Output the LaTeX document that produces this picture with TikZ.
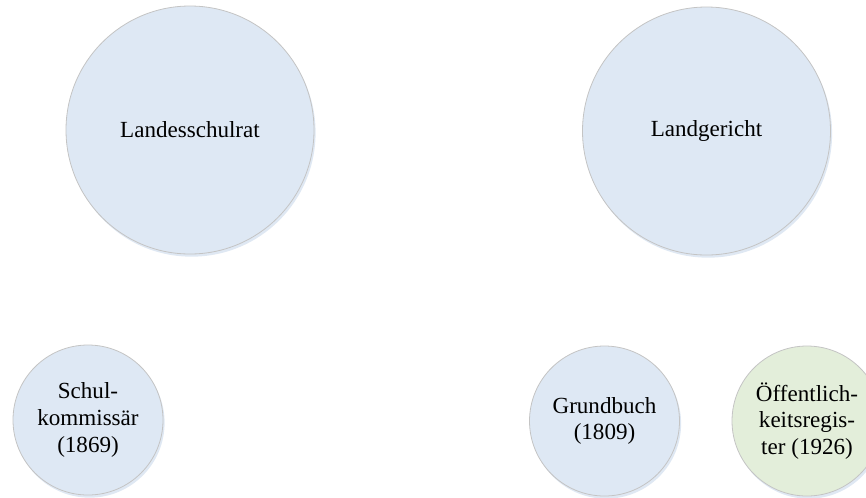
\documentclass[tikz,border=0pt]{standalone}
\usepackage{fontspec}
\setmainfont{Liberation Serif}
\usetikzlibrary{shadows}
\definecolor{bluefill}{HTML}{DEE8F4}
\definecolor{greenfill}{HTML}{E3EEDA}
\definecolor{rim}{HTML}{C4C4C4}
\definecolor{shade}{HTML}{B8CCE4}
\tikzset{
  orgcircle/.style={circle, draw=rim, line width=0.6pt, fill=bluefill, inner sep=0pt,
    align=center, font=\fontsize{17.3}{20}\selectfont,
    drop shadow={shadow xshift=1.2pt, shadow yshift=-2pt, fill=shade, opacity=0.45}},
  bigcircle/.style={orgcircle, minimum size=186pt},
  smallcircle/.style={orgcircle, minimum size=112.5pt},
  greencircle/.style={smallcircle, fill=greenfill}
}
\begin{document}
\begin{tikzpicture}[x=0.75pt,y=-0.75pt]
\useasboundingbox (0,0) rectangle (866,497);
\begin{scope}
\clip (0,0) rectangle (866,497);
\node[bigcircle] (lsr) at (190,130) {Landesschulrat};
\node[bigcircle] (lg) at (706.5,131) {Landgericht};
\node[smallcircle] (sk) at (88,420) {Schul-\\kommissär\\(1869)};
\node[smallcircle] (gb) at (604.5,421) {Grundbuch\\(1809)};
\node[greencircle] (oer) at (807,421) {Öffentlich-\\keitsregis-\\ter (1926)};
\end{scope}
\end{tikzpicture}
\end{document}
